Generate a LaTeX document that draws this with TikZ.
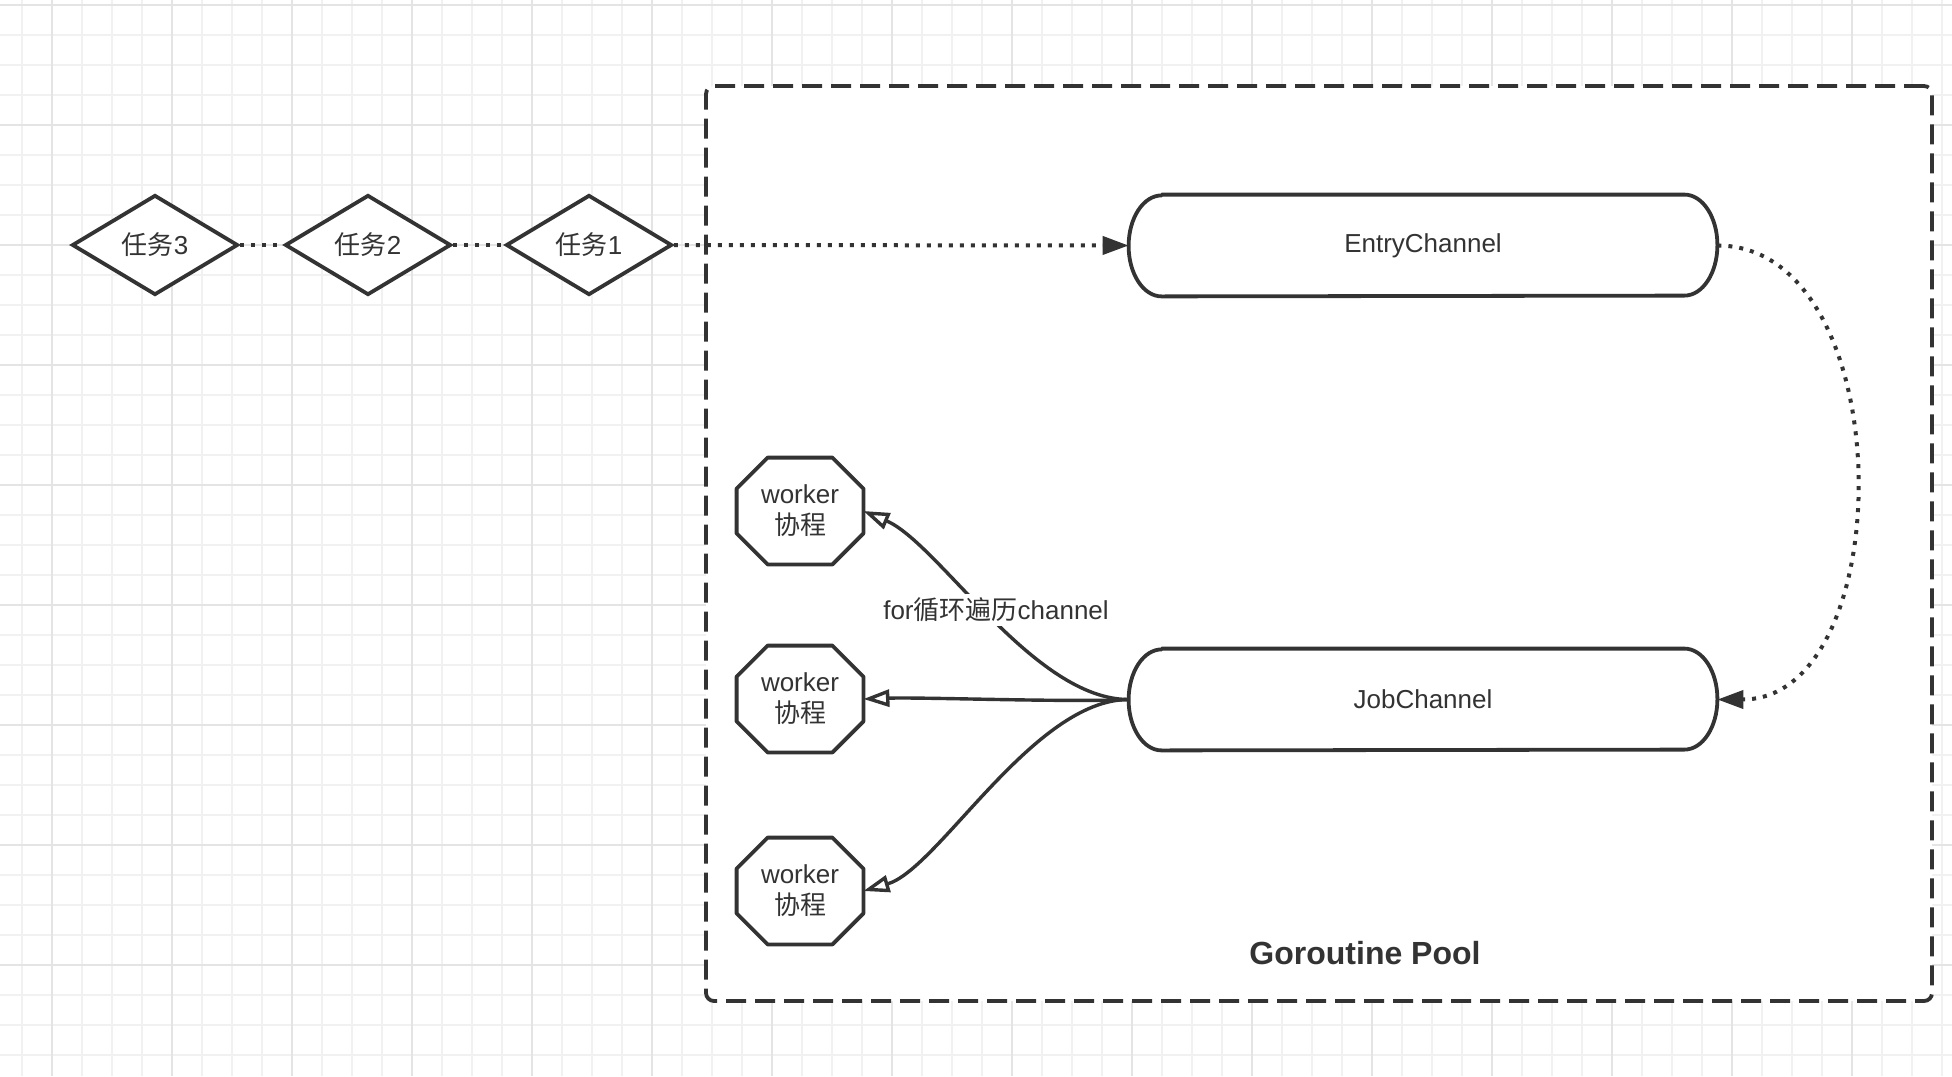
\documentclass[tikz,border=0pt]{standalone}
\usepackage{fontspec}
\setmainfont{Liberation Sans}
\newfontfamily\cjk{Noto Sans CJK SC}
\usetikzlibrary{shapes.geometric,arrows.meta,calc}
\definecolor{ink}{HTML}{333333}
\definecolor{gridminor}{HTML}{F1F1F1}
\definecolor{gridmajor}{HTML}{E4E4E4}
\pgfdeclarelayer{bg}
\pgfdeclarelayer{shp}
\pgfsetlayers{bg,shp,main}
\newcommand\txtfont{\fontsize{13}{15.5}\selectfont}
\newcommand\chanpath[1]{%
  \draw[shapeline,fill=white] ($(#1.north west)+(33,0)$) -- ($(#1.north east)+(-33,0)$)
    arc[start angle=-90, end angle=90, x radius=33, y radius=50.5]
    -- ($(#1.south west)+(33,0)$)
    arc[start angle=90, end angle=270, x radius=33, y radius=50.5] -- cycle;}
\newcommand\octpath[1]{%
  \draw[shapeline,fill=white] ($(#1.north west)+(31,0)$) -- ($(#1.north east)+(-31,0)$)
    -- ($(#1.north east)+(0,31)$) -- ($(#1.south east)+(0,-31)$)
    -- ($(#1.south east)+(-31,0)$) -- ($(#1.south west)+(31,0)$)
    -- ($(#1.south west)+(0,-31)$) -- ($(#1.north west)+(0,31)$) -- cycle;}
\tikzset{
  shapeline/.style={draw=ink, line width=1.9pt, line join=round},
  task/.style={diamond, draw=ink, line width=1.9pt, fill=white, minimum width=83pt,
    minimum height=50pt, inner sep=0pt, text=ink, font=\txtfont},
  chanbox/.style={rectangle, minimum width=294pt, minimum height=50.5pt, inner sep=0pt,
    text=ink, font=\txtfont},
  octbox/.style={rectangle, minimum width=63pt, minimum height=53pt, inner sep=0pt,
    align=center, text=ink, font=\txtfont},
  container/.style={rectangle, draw=ink, line width=1.9pt, fill=white,
    dash pattern=on 10pt off 4.5pt, rounded corners=4pt, minimum width=613pt,
    minimum height=457.5pt, inner sep=0pt},
  dotline/.style={draw=ink, line width=2pt, dash pattern=on 2pt off 3.5pt},
  flow/.style={draw=ink, line width=1.7pt},
  solidtip/.style={-{Triangle[length=13pt,width=9pt]}},
  opentip/.style={-{Triangle[open,length=13pt,width=8.5pt,line width=1.7pt]}},
}
\begin{document}
\begin{tikzpicture}[x=0.5pt,y=-0.5pt]
\useasboundingbox (0,0) rectangle (1952,1076);
\begin{pgfonlayer}{bg}
  \fill[white] (0,0) rectangle (1952,1076);
  \foreach \gx in {22,52,...,1942} \draw[gridminor,line width=0.6pt] (\gx,0) -- (\gx,1076);
  \foreach \gy in {5,35,...,1065} \draw[gridminor,line width=0.6pt] (0,\gy) -- (1952,\gy);
  \foreach \gx in {52,172,...,1852} \draw[gridmajor,line width=0.6pt] (\gx,0) -- (\gx,1076);
  \foreach \gy in {5,125,...,965} \draw[gridmajor,line width=0.6pt] (0,\gy) -- (1952,\gy);
  \node[container] (pool) at (1319,543.5) {};
\end{pgfonlayer}
\node[font=\bfseries\fontsize{16}{19}\selectfont, text=ink] (poollabel) at (1365,953) {Goroutine Pool};

% tasks
\node[task] (t3) at (155,245) {{\cjk 任务}3};
\node[task] (t2) at (368,245) {{\cjk 任务}2};
\node[task] (t1) at (589,245) {{\cjk 任务}1};

% channels
\node[chanbox] (entry) at (1423,245.5) {EntryChannel};
\node[chanbox] (job) at (1423,699.5) {JobChannel};

% workers
\node[octbox] (w1) at (800,511) {worker\\{\cjk 协程}};
\node[octbox] (w2) at (800,699) {worker\\{\cjk 协程}};
\node[octbox] (w3) at (800,891) {worker\\{\cjk 协程}};

\begin{pgfonlayer}{shp}
  \chanpath{entry}
  \chanpath{job}
  \octpath{w1}
  \octpath{w2}
  \octpath{w3}
\end{pgfonlayer}

% dotted connectors
\draw[dotline] (t3.east) -- (t2.west);
\draw[dotline] (t2.east) -- (t1.west);
\draw[dotline, solidtip] (t1.east) -- (entry.west);
\draw[dotline, solidtip] (entry.east) .. controls +(184,0) and +(184,0) .. (job.east);

% worker connectors
\draw[flow, opentip] (job.west) .. controls +(-95,0) and +(75,32) .. (w1.east);
\draw[flow, opentip] (job.west) .. controls +(-60,3) and +(60,-2) .. (w2.east);
\draw[flow, opentip] (job.west) .. controls +(-95,0) and +(75,-22) .. (w3.east);

\node[fill=white, inner sep=2pt, text=ink, font=\txtfont] (forlabel) at (996,610) {for{\cjk 循环遍历}channel};
\end{tikzpicture}
\end{document}
